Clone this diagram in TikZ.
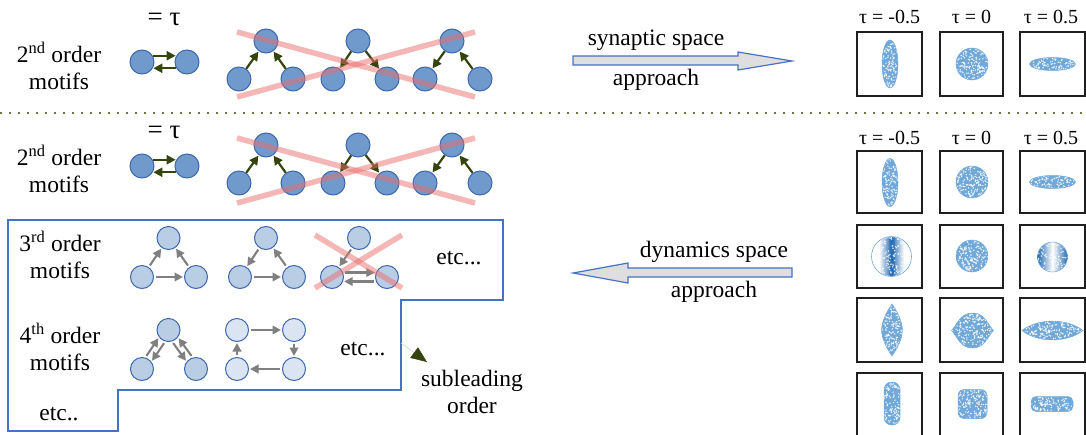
\documentclass[tikz,border=0pt]{standalone}
\usepackage{fontspec}
\setmainfont{Liberation Serif}
\usetikzlibrary{arrows.meta,calc}
\definecolor{mblue}{RGB}{112,153,204}
\definecolor{mborder}{RGB}{62,104,172}
\definecolor{lblue}{RGB}{185,205,229}
\definecolor{llblue}{RGB}{219,228,242}
\definecolor{oliveD}{RGB}{52,68,12}
\definecolor{dotc}{RGB}{105,120,60}
\definecolor{xred}{RGB}{235,110,110}
\definecolor{boxblue}{RGB}{68,114,196}
\definecolor{arrfill}{RGB}{222,222,222}
\definecolor{scat}{RGB}{112,168,218}
\definecolor{scatD}{RGB}{38,108,180}
\definecolor{garrc}{RGB}{128,128,128}

\tikzset{
 m2/.style={circle, draw=mborder, fill=mblue, line width=1pt, minimum size=24pt, inner sep=0pt},
 m3/.style={m2, minimum size=23pt, fill=lblue},
 m4/.style={m3, fill=llblue},
 oarr/.style={draw=oliveD, line width=2.2pt, -{Triangle[length=9pt,width=9pt]}, shorten >=0.5pt},
 garr/.style={draw=garrc, line width=2.1pt, -{Triangle[length=8.5pt,width=8.5pt]}, shorten <=2pt, shorten >=1pt},
 xline/.style={draw=xred, line width=5.5pt, opacity=0.5},
 txt/.style={font=\fontsize{23.5}{27}\selectfont, align=center, inner sep=0pt},
 eqs/.style={font=\fontsize{27}{30}\selectfont, inner sep=0pt},
 taul/.style={font=\fontsize{20}{24}\selectfont, inner sep=0pt},
 pbox/.style={draw=black!88, line width=2pt},
 blockarr/.style={draw=boxblue, fill=arrfill, line width=1.2pt},
}

\newcommand{\specks}[5]{%
  \foreach \k in {1,...,#5}{%
    \pgfmathsetmacro{\sx}{#1+#3*rand}%
    \pgfmathsetmacro{\sy}{#2+#4*rand}%
    \fill[white,opacity=0.85] (\sx,\sy) circle[radius=0.8pt];%
  }%
}
\newcommand{\scfill}[6][]{%
  \begin{scope}[#1]
    \clip #2;
    \fill[scat] #2;
    \pgfmathtruncatemacro{\nsp}{#5*#6/1.4}%
    \specks{#3}{#4}{#5}{#6}{\nsp}
  \end{scope}
  \draw[scat,line width=0.5pt,#1] #2;
}

\begin{document}
\begin{tikzpicture}[x=1pt,y=-1pt]
\pgfmathsetseed{7}
\useasboundingbox (0,0) rectangle (1086,434);
\clip (0,0) rectangle (1086,434);

% ---------- top section ----------
\node[txt] (o2a) at (59,66) {2\textsuperscript{nd} order\\motifs};
\node[eqs] (eq1) at (164,19) {= τ};
\node[m2] (p1a) at (142,62) {};
\node[m2] (p1b) at (187,62) {};
\draw[oarr] (p1a.30) -- (p1b.150);
\draw[oarr] (p1b.210) -- (p1a.-30);

\node[m2] (a1t) at (266,41) {};
\node[m2] (a1l) at (239,79) {};
\node[m2] (a1r) at (293,79) {};
\node[m2] (b1t) at (358,41) {};
\node[m2] (b1l) at (333,79) {};
\node[m2] (b1r) at (387,79) {};
\node[m2] (c1t) at (452,41) {};
\node[m2] (c1l) at (425,79) {};
\node[m2] (c1r) at (480,79) {};
\draw[oarr] (a1l) -- (a1t);
\draw[oarr] (a1r) -- (a1t);
\draw[oarr] (b1t) -- (b1l);
\draw[oarr] (b1t) -- (b1r);
\draw[oarr] (c1t) -- (c1l);
\draw[oarr] (c1r) -- (c1t);
\coordinate (x1a) at (237,32); \coordinate (x1b) at (475,97);
\coordinate (x1c) at (237,97); \coordinate (x1d) at (475,32);
\draw[xline] (x1a) -- (x1b);
\draw[xline] (x1c) -- (x1d);

\node[txt] (syn) at (656,40) {synaptic space};
\node[txt] (syna) at (656,80) {approach};
\draw[blockarr] (573,56) -- (738,56) -- (738,52) -- (792,61) -- (738,70) -- (738,65) -- (573,65) -- cycle;

\node[taul] (ta1) at (889.5,17) {τ = -0.5};
\node[taul] (tb1) at (971.5,17) {τ = 0};
\node[taul] (tc1) at (1051,17) {τ = 0.5};

% dotted separator
\coordinate (dl) at (0,113); \coordinate (dr) at (1086,113);
\draw[dotc, line width=1.6pt, dash pattern=on 1.6pt off 7.4pt] (dl) -- (dr);

% ---------- lower section ----------
\node[txt] (o2b) at (59,168.5) {2\textsuperscript{nd} order\\motifs};
\node[eqs] (eq2) at (164,132) {= τ};
\node[m2] (p2a) at (142,166) {};
\node[m2] (p2b) at (187,166) {};
\draw[oarr] (p2a.30) -- (p2b.150);
\draw[oarr] (p2b.210) -- (p2a.-30);

\node[m2] (a2t) at (266,145) {};
\node[m2] (a2l) at (239,183) {};
\node[m2] (a2r) at (293,183) {};
\node[m2] (b2t) at (358,145) {};
\node[m2] (b2l) at (333,183) {};
\node[m2] (b2r) at (387,183) {};
\node[m2] (c2t) at (452,145) {};
\node[m2] (c2l) at (425,183) {};
\node[m2] (c2r) at (480,183) {};
\draw[oarr] (a2l) -- (a2t);
\draw[oarr] (a2r) -- (a2t);
\draw[oarr] (b2t) -- (b2l);
\draw[oarr] (b2t) -- (b2r);
\draw[oarr] (c2t) -- (c2l);
\draw[oarr] (c2r) -- (c2t);
\coordinate (x2a) at (237,138); \coordinate (x2b) at (475,203);
\coordinate (x2c) at (237,203); \coordinate (x2d) at (475,138);
\draw[xline] (x2a) -- (x2b);
\draw[xline] (x2c) -- (x2d);

% blue outline
\draw[boxblue, line width=1.3pt] (8,220) -- (503,220) -- (503,300) -- (401,300) -- (401,390) -- (118,390) -- (118,431) -- (8,431) -- cycle;

\node[txt] (o3) at (60,255) {3\textsuperscript{rd} order\\motifs};
\node[m3] (d1t) at (168.5,238) {};
\node[m3] (d1l) at (142,277) {};
\node[m3] (d1r) at (196,277) {};
\draw[garr] (d1l) -- (d1t);
\draw[garr] (d1r) -- (d1t);
\draw[garr] (d1l) -- (d1r);
\node[m3] (e1t) at (266,238) {};
\node[m3] (e1l) at (240,277) {};
\node[m3] (e1r) at (294,277) {};
\draw[garr] (e1t) -- (e1l);
\draw[garr] (e1r) -- (e1t);
\draw[garr] (e1l) -- (e1r);
\node[m3] (f1t) at (359,238) {};
\node[m3] (f1l) at (332,277) {};
\node[m3] (f1r) at (387,277) {};
\draw[garr] (f1t) -- (f1l);
\draw[garr] (f1l.22) -- (f1r.158);
\draw[garr] (f1r.-158) -- (f1l.-22);
\coordinate (x3a) at (315,235); \coordinate (x3b) at (402,288);
\coordinate (x3c) at (315,288); \coordinate (x3d) at (402,235);
\draw[xline] (x3a) -- (x3b);
\draw[xline] (x3c) -- (x3d);
\node[txt] (etc3) at (459,258) {etc...};

\node[txt] (o4) at (60,346.5) {4\textsuperscript{th} order\\motifs};
\node[m3] (g1t) at (168.5,330) {};
\node[m3] (g1l) at (142,369) {};
\node[m3] (g1r) at (196,369) {};
\draw[garr] (g1l.74) -- (g1t.218);
\draw[garr] (g1t.254) -- (g1l.38);
\draw[garr] (g1r.106) -- (g1t.322);
\draw[garr] (g1t.287) -- (g1r.142);
\node[m4] (h1a) at (237,330) {};
\node[m4] (h1b) at (294,330) {};
\node[m4] (h1c) at (294,369) {};
\node[m4] (h1d) at (237,369) {};
\draw[garr] (h1a) -- (h1b);
\draw[garr] (h1b) -- (h1c);
\draw[garr] (h1c) -- (h1d);
\draw[garr] (h1d) -- (h1a);
\node[txt] (etc4) at (363,349) {etc...};
\node[txt] (etc5) at (59,414) {etc..};

\coordinate (sl0) at (401,343);
\node[txt] (subl) at (472,391.5) {subleading\\order};
\coordinate (sl1) at (427,362);
\draw[gray!35, line width=0.6pt, -{Triangle[length=16pt,width=13pt,color=oliveD]}] (sl0) -- (sl1);

\node[txt] (dyn) at (714,252) {dynamics space};
\node[txt] (dyna) at (714,292) {approach};
\draw[blockarr] (792,268) -- (628,268) -- (628,263) -- (573,273) -- (628,283) -- (628,277) -- (792,277) -- cycle;

\node[taul] (ta2) at (889.5,138) {τ = -0.5};
\node[taul] (tb2) at (971.5,138) {τ = 0};
\node[taul] (tc2) at (1051,138) {τ = 0.5};

% ---------- scatter panels ----------
% top row
\scfill{(890,64) ellipse[x radius=8pt,y radius=24pt]}{890}{64}{8}{24}
\scfill{(972,64) circle[radius=16pt]}{972}{64}{16}{16}
\scfill{(1052.5,64) ellipse[x radius=23pt,y radius=6.5pt]}{1052.5}{64}{23}{6.5}
% row A
\scfill{(890,182.5) ellipse[x radius=8pt,y radius=24pt]}{890}{182.5}{8}{24}
\scfill{(972,182) circle[radius=16pt]}{972}{182}{16}{16}
\scfill{(1052.5,182) ellipse[x radius=23pt,y radius=6.5pt]}{1052.5}{182}{23}{6.5}
% row B
\draw[scat, line width=0.6pt] (891.5,256.5) circle[radius=20pt];
\begin{scope}
  \clip (891.5,256.5) circle[radius=19.4pt];
  \shade[left color=white, right color=white, middle color=scatD] (879,236) rectangle (904,277);
  \fill[scatD, opacity=0.45] (888.5,236) rectangle (894.5,277);
  \specks{891.5}{256.5}{12}{20}{90}
\end{scope}
\scfill{(972,256) circle[radius=16pt]}{972}{256}{16}{16}
\begin{scope}
  \clip (1052.5,257) circle[radius=15pt];
  \shade[left color=scatD, right color=scatD, middle color=white] (1037.5,242) rectangle (1067.5,272);
  \specks{1052.5}{257}{15}{15}{80}
\end{scope}
\draw[scat, line width=0.5pt] (1052.5,257) circle[radius=15pt];
% row C
\scfill{(892,304) .. controls (899,314) and (902,322) .. (902.5,330) .. controls (902,338) and (899,346) .. (892,356) .. controls (885,346) and (882,338) .. (881.5,330) .. controls (882,322) and (885,314) .. cycle}{892}{330}{10.5}{26}
\scfill{(951.5,330.5) .. controls (957,325) and (960,313) .. (972.5,313) .. controls (985,313) and (988,325) .. (993.5,330.5) .. controls (988,336) and (985,348) .. (972.5,348) .. controls (960,348) and (957,336) .. cycle}{972.5}{330.5}{21}{17.5}
\scfill{(1022,330.5) .. controls (1038,318) and (1067,318) .. (1083,330.5) .. controls (1067,343) and (1038,343) .. cycle}{1052.5}{330.5}{30.5}{9.5}
% row D
\scfill[rounded corners=7.5pt]{(884,382) rectangle (900,425)}{892}{403.5}{8}{21.5}
\scfill[rounded corners=6pt]{(958,389.5) rectangle (987,418.5)}{972.5}{404}{14.5}{14.5}
\scfill[rounded corners=5pt]{(1031,396.5) rectangle (1073,411.5)}{1052}{404}{21}{7.5}

% frames
\foreach \yt/\yb in {32/96,151/213,225/288,298/362,373/437}{
  \draw[pbox] (857,\yt) rectangle (922,\yb);
  \draw[pbox] (940,\yt) rectangle (1003,\yb);
  \draw[pbox] (1020,\yt) rectangle (1085,\yb);
}
\end{tikzpicture}
\end{document}
